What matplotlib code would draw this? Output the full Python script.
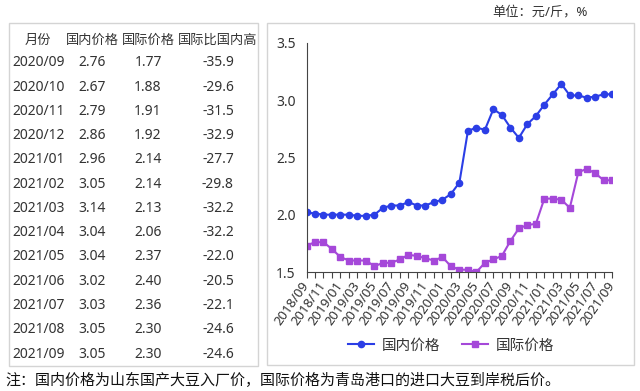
import numpy as np
import matplotlib.pyplot as plt
from matplotlib.patches import Rectangle

plt.rcParams['font.family'] = ['Noto Sans', 'Noto Sans CJK SC', 'DejaVu Sans']

# chart data, 2018/09 - 2021/09
months = ['2018/09', '2018/10', '2018/11', '2018/12', '2019/01', '2019/02', '2019/03',
          '2019/04', '2019/05', '2019/06', '2019/07', '2019/08', '2019/09', '2019/10',
          '2019/11', '2019/12', '2020/01', '2020/02', '2020/03', '2020/04', '2020/05',
          '2020/06', '2020/07', '2020/08', '2020/09', '2020/10', '2020/11', '2020/12',
          '2021/01', '2021/02', '2021/03', '2021/04', '2021/05', '2021/06', '2021/07',
          '2021/08', '2021/09']
domestic = [2.02, 2.01, 2.00, 2.00, 2.00, 2.00, 1.99, 1.99, 2.00, 2.06, 2.08, 2.08, 2.11,
            2.08, 2.08, 2.11, 2.13, 2.18, 2.28, 2.73, 2.76, 2.74, 2.92, 2.87, 2.76, 2.67,
            2.79, 2.86, 2.96, 3.05, 3.14, 3.04, 3.04, 3.02, 3.03, 3.05, 3.05]
international = [1.73, 1.76, 1.76, 1.70, 1.63, 1.60, 1.60, 1.60, 1.55, 1.58, 1.58, 1.61,
                 1.65, 1.64, 1.62, 1.60, 1.63, 1.55, 1.52, 1.52, 1.50, 1.58, 1.61, 1.64,
                 1.77, 1.88, 1.91, 1.92, 2.14, 2.14, 2.13, 2.06, 2.37, 2.40, 2.36, 2.30, 2.30]

# table data
tbl_header = ['月份', '国内价格', '国际价格', '国际比国内高']
tbl_month = ['2020/09', '2020/10', '2020/11', '2020/12', '2021/01', '2021/02', '2021/03',
             '2021/04', '2021/05', '2021/06', '2021/07', '2021/08', '2021/09']
tbl_dom = ['2.76', '2.67', '2.79', '2.86', '2.96', '3.05', '3.14', '3.04', '3.04', '3.02',
           '3.03', '3.05', '3.05']
tbl_intl = ['1.77', '1.88', '1.91', '1.92', '2.14', '2.14', '2.13', '2.06', '2.37', '2.40',
            '2.36', '2.30', '2.30']
tbl_diff = ['-35.9', '-29.6', '-31.5', '-32.9', '-27.7', '-29.8', '-32.2', '-32.2', '-22.0',
            '-20.5', '-22.1', '-24.6', '-24.6']

W, H = 640, 391
fig = plt.figure(figsize=(6.4, 3.91), dpi=100)
txt = '#333333'
blue = '#2b3ee6'
purple = '#a548d9'


def fx(px):
    return px / W


def fy(py):
    return 1 - py / H


# panel borders
fig.patches.append(Rectangle((fx(9), fy(366)), fx(249), (366 - 23) / H, transform=fig.transFigure,
                             fill=False, ec='#d4d4d4', lw=1))
fig.patches.append(Rectangle((fx(267), fy(365)), fx(367), (365 - 23) / H, transform=fig.transFigure,
                             fill=False, ec='#d4d4d4', lw=1))

# table
col_x = [38, 92, 148, 218]
for j in range(4):
    fig.text(fx(col_x[j]), fy(40), tbl_header[j], ha='center', va='center', fontsize=9.5, color=txt)
for i in range(len(tbl_month)):
    y = fy(63 + i * 24.25)
    fig.text(fx(12), y, tbl_month[i], ha='left', va='center', fontsize=10, color=txt)
    fig.text(fx(col_x[1]), y, tbl_dom[i], ha='center', va='center', fontsize=10, color=txt)
    fig.text(fx(col_x[2]), y, tbl_intl[i], ha='center', va='center', fontsize=10, color=txt)
    fig.text(fx(col_x[3]), y, tbl_diff[i], ha='center', va='center', fontsize=10, color=txt)

# line chart
ax = fig.add_axes([fx(306.5), fy(272), fx(612.3 - 306.5), (272 - 42.7) / H])
x = np.arange(len(months))
ax.plot(x, domestic, '-o', color=blue, lw=1.5, ms=4.5, label='国内价格')
ax.plot(x, international, '-s', color=purple, lw=1.5, ms=4.5, label='国际价格')
ax.set_xlim(0, len(months) - 1)
ax.set_ylim(1.5, 3.5)
ax.set_yticks([1.5, 2.0, 2.5, 3.0, 3.5])
ax.set_yticklabels(['1.5', '2.0', '2.5', '3.0', '3.5'])
ax.set_xticks(x)
ax.set_xticklabels([m if i % 2 == 0 else '' for i, m in enumerate(months)],
                   rotation=55, ha='right', va='center', rotation_mode='anchor')
ax.tick_params(axis='x', length=4, width=0.8, color='#444444', labelsize=9.5,
               labelcolor=txt, pad=4)
ax.tick_params(axis='y', length=0, labelsize=10, labelcolor=txt, pad=8)
for s in ['top', 'right']:
    ax.spines[s].set_visible(False)
ax.spines['left'].set_color('#444444')
ax.spines['bottom'].set_color('#444444')
ax.patch.set_alpha(0)

fig.legend(loc='center', bbox_to_anchor=(fx(451), fy(346)), ncol=2, frameon=False,
           fontsize=10.5, handlelength=1.8, columnspacing=1.5, handletextpad=0.5,
           labelcolor=txt)

fig.text(fx(588), fy(12), '单位：元/斤，%', ha='right', va='center', fontsize=9.5, color=txt)
fig.text(fx(5), fy(381), '注：国内价格为山东国产大豆入厂价，国际价格为青岛港口的进口大豆到岸税后价。',
         ha='left', va='center', fontsize=10.8, color='#111111')

plt.savefig('out.png', dpi=100)
